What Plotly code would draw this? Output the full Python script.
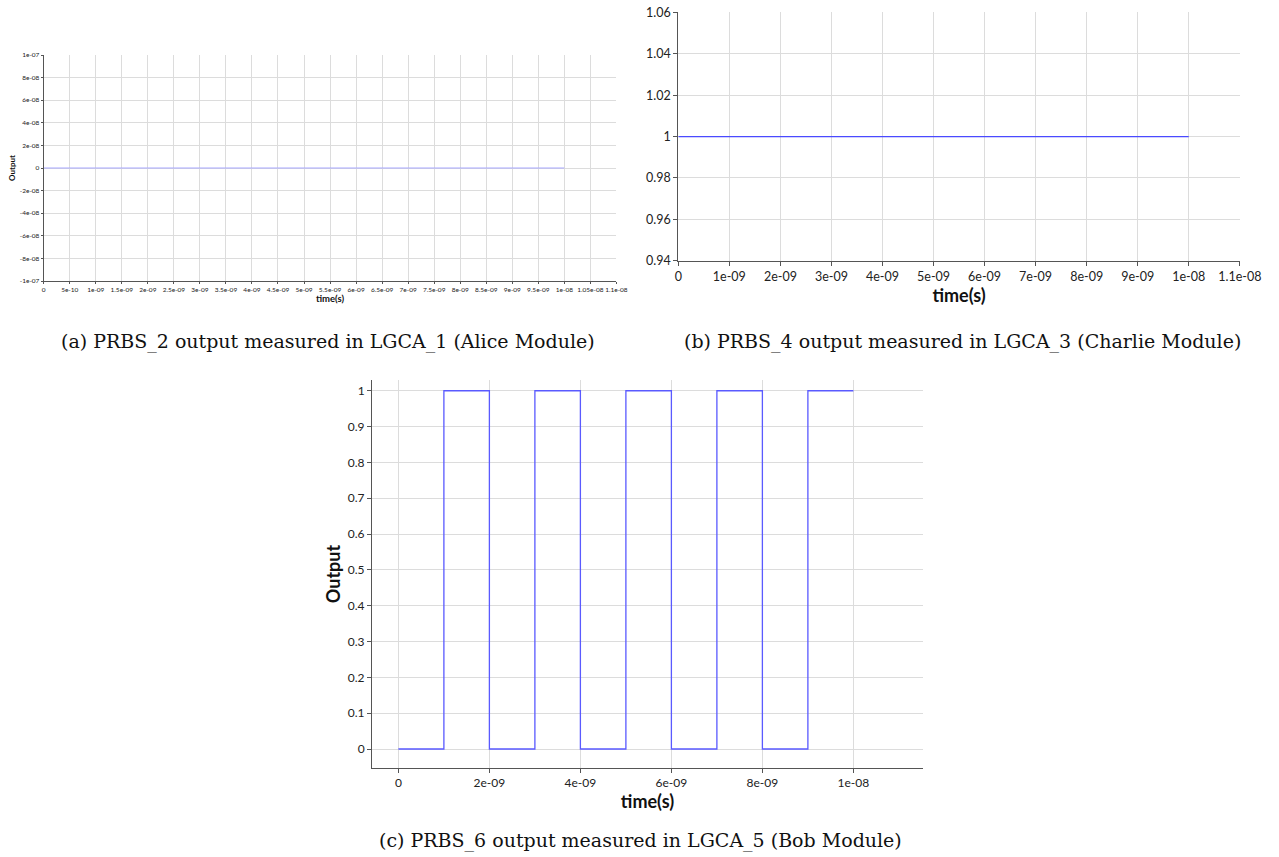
import plotly.graph_objects as go

OFF = 0  # body margin removed via post_script
W, H = 1279, 857

# ---- data ----
time_a = [0, 1e-8]
output_a = [0, 0]

time_b = [0, 1e-8]
output_b = [1, 1]

time_c = [0, 1e-9, 2e-9, 3e-9, 4e-9, 5e-9, 6e-9, 7e-9, 8e-9, 9e-9, 1e-8]
output_c = [0, 1, 0, 1, 0, 1, 0, 1, 0, 1, 1]

xt_a_vals = [i * 5e-10 for i in range(23)]
xt_a_text = ["0", "5e-10", "1e-09", "1.5e-09", "2e-09", "2.5e-09", "3e-09", "3.5e-09",
             "4e-09", "4.5e-09", "5e-09", "5.5e-09", "6e-09", "6.5e-09", "7e-09", "7.5e-09",
             "8e-09", "8.5e-09", "9e-09", "9.5e-09", "1e-08", "1.05e-08", "1.1e-08"]
yt_a_vals = [1e-7, 8e-8, 6e-8, 4e-8, 2e-8, 0, -2e-8, -4e-8, -6e-8, -8e-8, -1e-7]
yt_a_text = ["1e-07", "8e-08", "6e-08", "4e-08", "2e-08", "0", "-2e-08", "-4e-08",
             "-6e-08", "-8e-08", "-1e-07"]

xt_b_vals = [i * 1e-9 for i in range(12)]
xt_b_text = ["0", "1e-09", "2e-09", "3e-09", "4e-09", "5e-09", "6e-09", "7e-09",
             "8e-09", "9e-09", "1e-08", "1.1e-08"]
yt_b_vals = [0.94, 0.96, 0.98, 1.0, 1.02, 1.04, 1.06]
yt_b_text = ["0.94", "0.96", "0.98", "1", "1.02", "1.04", "1.06"]

xt_c_vals = [0, 2e-9, 4e-9, 6e-9, 8e-9, 1e-8]
xt_c_text = ["0", "2e-09", "4e-09", "6e-09", "8e-09", "1e-08"]
yt_c_vals = [0, 0.1, 0.2, 0.3, 0.4, 0.5, 0.6, 0.7, 0.8, 0.9, 1.0]
yt_c_text = ["0", "0.1", "0.2", "0.3", "0.4", "0.5", "0.6", "0.7", "0.8", "0.9", "1"]

captions = [
    "(a) PRBS_2 output measured in LGCA_1 (Alice Module)",
    "(b) PRBS_4 output measured in LGCA_3 (Charlie Module)",
    "(c) PRBS_6 output measured in LGCA_5 (Bob Module)",
]

SANS = "Lato, 'DejaVu Sans', sans-serif"
SERIF = "'DejaVu Serif', 'Liberation Serif', serif"
GRID = "#dcdcdc"
AXIS = "#555555"


def px_x(a, b):
    return [(a - OFF) / W, (b - OFF) / W]


def px_y(top, bottom):
    return [1 - (bottom - OFF) / H, 1 - (top - OFF) / H]


fig = go.Figure()
fig.add_trace(go.Scatter(x=time_a, y=output_a, mode="lines",
                         line=dict(color="#a8a8ff", width=1.2), xaxis="x", yaxis="y"))
fig.add_trace(go.Scatter(x=time_b, y=output_b, mode="lines",
                         line=dict(color="#4a4aff", width=1.3), xaxis="x2", yaxis="y2"))
fig.add_trace(go.Scatter(x=time_c, y=output_c, mode="lines", line_shape="hv",
                         line=dict(color="#5a5aff", width=1.3), xaxis="x3", yaxis="y3"))


def ax(domain, rng, tv, tt, fs, title=None, tfs=None, standoff=None, anchor=None, tl=4):
    d = dict(domain=domain, range=rng, tickvals=tv, ticktext=tt, tickangle=0,
             tickfont=dict(family=SANS, size=fs, color="#222"),
             ticklabeloverflow="allow",
             showgrid=True, gridcolor=GRID, gridwidth=1, zeroline=False,
             showline=True, linecolor=AXIS, linewidth=1,
             ticks="outside", ticklen=tl, tickcolor=AXIS, tickwidth=1,
             anchor=anchor, fixedrange=True, automargin=False)
    if title:
        d["title"] = dict(text="<b>%s</b>" % title,
                          font=dict(family=SANS, size=tfs, color="#111"),
                          standoff=standoff)
    return d


fig.update_layout(
    width=W, height=H, margin=dict(l=0, r=0, t=0, b=0),
    paper_bgcolor="white", plot_bgcolor="white", showlegend=False,
    xaxis=ax(px_x(43.7, 616.4), [0, 1.1e-8], xt_a_vals, xt_a_text, 6.5,
             "time(s)", 9.5, 1, "y", 2),
    yaxis=ax(px_y(55, 281), [-1e-7, 1e-7], yt_a_vals, yt_a_text, 6.5,
             "Output", 8, 3, "x", 2),
    xaxis2=ax(px_x(678.3, 1239.8), [0, 1.1e-8], xt_b_vals, xt_b_text, 12.5,
              "time(s)", 18, 1, "y2", 4),
    yaxis2=ax(px_y(12.0, 260.7), [0.94, 1.0602], yt_b_vals, yt_b_text, 12.5,
              None, None, None, "x2", 4),
    xaxis3=ax(px_x(372, 923), [-0.58e-9, 11.53e-9], xt_c_vals, xt_c_text, 12,
              "time(s)", 18, 1, "y3", 4),
    yaxis3=ax(px_y(380, 768), [-0.053, 1.03], yt_c_vals, yt_c_text, 12,
              "Output", 18, 2, "x3", 4),
)

cap_pos = [(328, 341), (962, 341), (640, 840)]
for text, (cx, cy) in zip(captions, cap_pos):
    fig.add_annotation(text=text, x=(cx - OFF) / W, y=1 - (cy - OFF) / H,
                       xref="paper", yref="paper",
                       xanchor="center", yanchor="middle", showarrow=False,
                       font=dict(family=SERIF, size=19, color="#111"))

fig.write_html("out.html", config={"displayModeBar": False},
               post_script="document.body.style.margin='0';document.body.style.overflow='hidden';")
